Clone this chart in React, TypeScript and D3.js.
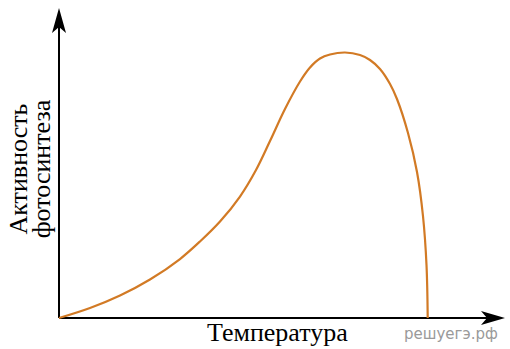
import { useRef, useEffect } from 'react'
import * as d3 from 'd3'

// curve: temperature (0..100) vs activity (0..100)
const temps = [0, 6.95, 13.68, 20.4, 27.13, 31.61, 36.1, 40.58, 44.17, 47.31, 50.67, 54.04, 56.28, 58.52, 60.76, 64.13, 67.49, 69.73, 71.97, 74.22, 75.78, 78.25, 80.27, 81.61, 82.4, 82.67]
const activity = [0, 3.23, 7.26, 12.42, 19.03, 24.68, 31.13, 39.19, 47.74, 57.1, 67.42, 76.29, 80.81, 83.71, 85.0, 85.65, 84.84, 83.23, 80.32, 75.48, 70.65, 59.68, 47.1, 32.9, 17.1, 0]

const xLabel = 'Температура'
const yLabel = ['Активность', 'фотосинтеза']
const watermark = 'решуегэ.рф'

export default function App() {
  const svgRef = useRef<SVGSVGElement>(null)

  useEffect(() => {
    const W = 510, H = 349
    const x0 = 59, y0 = 318
    const C = { axis: '#000', curve: '#d27a25', mark: '#9a9a9a' }

    const xScale = d3.scaleLinear().domain([0, 100]).range([x0, 505])
    const yScale = d3.scaleLinear().domain([0, 100]).range([y0, 8])

    const svg = d3.select(svgRef.current)
    svg.selectAll('*').remove()
    svg.attr('width', W).attr('height', H)

    // Axes
    svg.append('line').attr('x1', x0).attr('y1', y0).attr('x2', x0).attr('y2', yScale(100) + 12)
      .attr('stroke', C.axis).attr('stroke-width', 2)
    svg.append('line').attr('x1', x0).attr('y1', y0).attr('x2', xScale(100) - 12).attr('y2', y0)
      .attr('stroke', C.axis).attr('stroke-width', 2)

    // Arrow heads
    const ty = yScale(100)
    svg.append('path')
      .attr('d', `M${x0},${ty} L${x0 + 7},${ty + 25} L${x0},${ty + 19} L${x0 - 7},${ty + 25} Z`)
      .attr('fill', C.axis)
    const tx = xScale(100)
    svg.append('path')
      .attr('d', `M${tx},${y0} L${tx - 24},${y0 - 7} L${tx - 18},${y0} L${tx - 24},${y0 + 7} Z`)
      .attr('fill', C.axis)

    // Curve
    const pts = temps.map((t, i) => [t, activity[i]] as [number, number])
    const line = d3.line<[number, number]>().x(d => xScale(d[0])).y(d => yScale(d[1]))
      .curve(d3.curveCatmullRom.alpha(0.5))
    svg.append('path').datum(pts).attr('d', line)
      .attr('fill', 'none').attr('stroke', C.curve).attr('stroke-width', 2.2)

    // Labels
    svg.append('text').attr('x', 207).attr('y', 341)
      .attr('font-family', '"Liberation Serif", "Times New Roman", serif').attr('font-size', 26)
      .attr('fill', '#000').text(xLabel)

    const yl = svg.append('text')
      .attr('transform', 'translate(27,169) rotate(-90)')
      .attr('text-anchor', 'middle')
      .attr('font-family', '"Liberation Serif", "Times New Roman", serif').attr('font-size', 26)
      .attr('fill', '#000')
    yLabel.forEach((s, i) => {
      yl.append('tspan').attr('x', 0).attr('dy', i === 0 ? 0 : 23).text(s)
    })

    svg.append('text').attr('x', 404).attr('y', 339)
      .attr('font-family', '"DejaVu Sans", sans-serif').attr('font-size', 15)
      .attr('fill', C.mark).text(watermark)
  }, [])

  return (
    <div style={{ position: 'absolute', left: 0, top: 0 }}>
      <svg ref={svgRef} style={{ display: 'block' }} />
    </div>
  )
}
